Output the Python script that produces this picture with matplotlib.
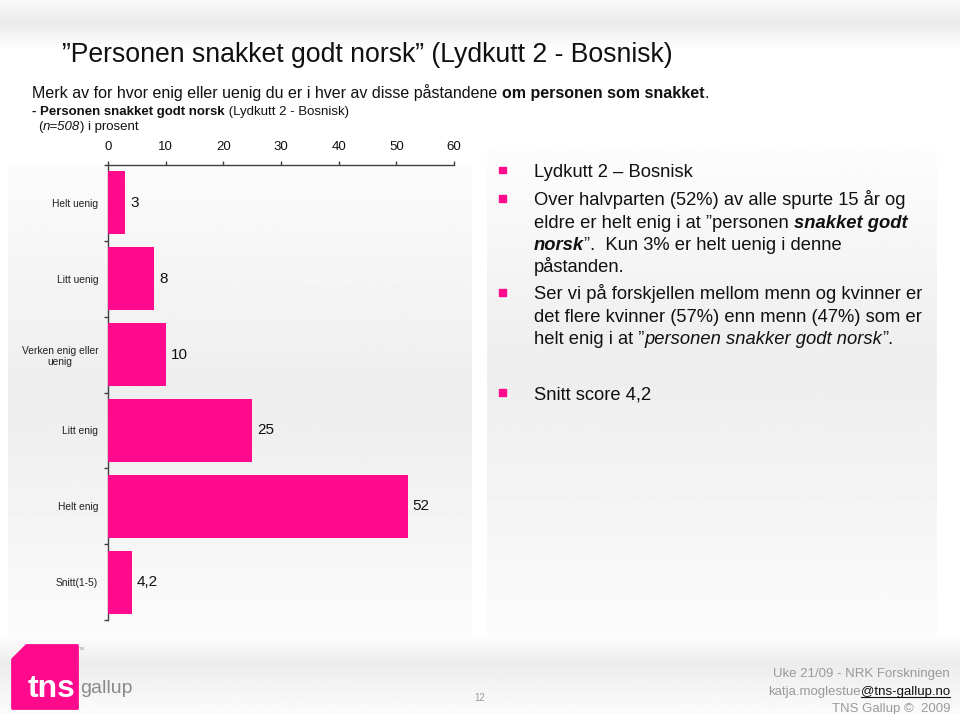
import numpy as np
import matplotlib
matplotlib.use("Agg")
import matplotlib.pyplot as plt
from matplotlib.patches import Polygon, Rectangle

plt.rcParams['font.family'] = ['Liberation Sans', 'DejaVu Sans']

# ---------------- data ----------------
categories = ["Helt uenig", "Litt uenig", "Verken enig eller\nuenig", "Litt enig", "Helt enig", "Snitt(1-5)"]
values = [3, 8, 10, 25, 52, 4.2]
value_labels = ["3", "8", "10", "25", "52", "4,2"]
x_ticks = [0, 10, 20, 30, 40, 50, 60]

PINK = "#FF0A8C"
W, H = 960, 714
fig = plt.figure(figsize=(W / 100, H / 100), dpi=100)
fig.patch.set_facecolor("white")

# background axes in pixel coordinates
bg = fig.add_axes([0, 0, 1, 1], zorder=-5)
bg.set_xlim(0, W)
bg.set_ylim(H, 0)
bg.axis("off")


def vgrad(x0, x1, y0, y1, stops):
    ys = np.linspace(0, 1, 200)
    pos = [s[0] for s in stops]
    vals = [s[1] for s in stops]
    g = np.interp(ys, pos, vals)
    img = np.repeat(g[:, None], 2, axis=1)
    bg.imshow(img, cmap="gray", vmin=0, vmax=1, extent=(x0, x1, y1, y0),
              aspect="auto", interpolation="bilinear", zorder=0)


vgrad(0, W, 0, 50, [(0, 0.975), (0.45, 0.92), (0.8, 0.97), (1, 1.0)])
vgrad(0, W, 636, H, [(0, 0.995), (0.35, 0.925), (0.75, 0.965), (1, 0.985)])
vgrad(8, 472, 165, 636, [(0, 0.985), (0.5, 0.93), (1, 0.985)])
vgrad(487, 937, 150, 636, [(0, 0.99), (0.45, 0.93), (1, 0.985)])

# ---------------- chart ----------------
ax = fig.add_axes([108 / W, 1 - 620 / H, (454 - 108) / W, (620 - 165) / H])
ax.patch.set_alpha(0)
y = np.arange(len(categories))
ax.barh(y, values, height=0.83, color=PINK, zorder=3)
ax.set_xlim(0, 60)
ax.set_ylim(len(categories) - 0.5, -0.5)
for s in ["right", "bottom"]:
    ax.spines[s].set_visible(False)
for s in ["left", "top"]:
    ax.spines[s].set_color("#404040")
    ax.spines[s].set_linewidth(1.0)
ax.xaxis.tick_top()
ax.set_xticks(x_ticks)
ax.set_xticklabels([str(t) for t in x_ticks], fontsize=9.5, color="#111111")
ax.tick_params(axis="x", direction="out", length=3, width=1, color="#404040", pad=6)
ax.set_yticks(y)
ax.set_yticklabels(categories, fontsize=7.4, color="#222222", multialignment="center")
ax.tick_params(axis="y", length=0, pad=7)
ax.set_yticks(np.arange(-0.5, len(categories), 1.0), minor=True)
ax.tick_params(axis="y", which="minor", length=3, width=1, color="#404040", direction="out")
for yi, v, lab in zip(y, values, value_labels):
    ax.annotate(lab, (v, yi), xytext=(3.5, 0), textcoords="offset points",
                va="center", ha="left", fontsize=11, color="#111111")

# ---------------- text helpers ----------------
fig.canvas.draw()
renderer = fig.canvas.get_renderer()


def px(x, yy):
    return x / W, 1 - yy / H


def text_width(s, **kw):
    t1 = fig.text(0, 0, s + "l", **kw)
    t2 = fig.text(0, 0, "l", **kw)
    w = t1.get_window_extent(renderer).width - t2.get_window_extent(renderer).width
    t1.remove()
    t2.remove()
    return w


def runs(x, yy, parts, size, color="#111111"):
    cx = x
    for part in parts:
        s = part[0]
        kw = dict(fontsize=size, color=part[3] if len(part) > 3 else color,
                  fontweight=part[1] if len(part) > 1 else "normal",
                  fontstyle=part[2] if len(part) > 2 else "normal")
        fig.text(*px(cx, yy), s, va="baseline", ha="left", **kw)
        cx += text_width(s, **kw)
    return cx


# title and subtitles
fig.text(*px(62, 61.5), "\u201dPersonen snakket godt norsk\u201d (Lydkutt 2 - Bosnisk)",
         fontsize=19.2, color="#111111", va="baseline", ha="left")
runs(32, 98, [("Merk av for hvor enig eller uenig du er i hver av disse påstandene ",),
              ("om personen som snakket", "bold"), (".",)], 11.5)
runs(32, 115, [("- Personen snakket godt norsk", "bold"), (" (Lydkutt 2 - Bosnisk)",)], 9.5)
runs(38, 130, [("(",), ("n=508", "normal", "italic"), (") i prosent",)], 9.5)

# right bullet text
RS = 13.2
lines = [
    (176.7, [("Lydkutt 2 \u2013 Bosnisk",)], True),
    (205, [("Over halvparten (52%) av alle spurte 15 år og",)], True),
    (227.5, [("eldre er helt enig i at \u201dpersonen ",), ("snakket godt", "bold", "italic")], False),
    (250, [("norsk", "bold", "italic"), ("\u201d.  Kun 3% er helt uenig i denne",)], False),
    (272.5, [("påstanden.",)], False),
    (299, [("Ser vi på forskjellen mellom menn og kvinner er",)], True),
    (321.7, [("det flere kvinner (57%) enn menn (47%) som er",)], False),
    (344.3, [("helt enig i at \u201d",), ("personen snakker godt norsk", "normal", "italic"), ("\u201d.",)], False),
    (399.3, [("Snitt score 4,2",)], True),
]
for yy, parts, bullet in lines:
    runs(534, yy, parts, RS)
    if bullet:
        bg.add_patch(Rectangle((499, yy - 10), 7, 6.5, color=PINK, zorder=5))

# footer
FG = "#9a9a9a"
fig.text(*px(950, 677), "Uke 21/09 - NRK Forskningen", fontsize=9.5, color=FG,
         ha="right", va="baseline")
kw = dict(fontsize=9.5, va="baseline")
w_at = text_width("@tns-gallup.no", fontsize=9.5)
fig.text(*px(950, 695), "@tns-gallup.no", color="#111111", ha="right", **kw)
fig.text(*px(950 - w_at, 695), "katja.moglestue", color=FG, ha="right", **kw)
bg.plot([950 - w_at, 950], [697, 697], color="#111111", lw=0.8, zorder=6)
fig.text(*px(950, 712), "TNS Gallup \u00a9  2009", fontsize=9.5, color=FG,
         ha="right", va="baseline")
fig.text(*px(480, 701), "12", fontsize=7, color=FG, ha="center", va="baseline")

# logo
bg.add_patch(Polygon([(26, 645), (77, 645), (77, 708), (12, 708), (12, 659)],
                     closed=True, facecolor=PINK, edgecolor=PINK, lw=2,
                     joinstyle="round", zorder=5))
fig.text(*px(28, 697), "tns", fontsize=23, fontweight="bold", color="white",
         ha="left", va="baseline", zorder=10)
fig.text(*px(80, 693), "gallup", fontsize=14, color="#8a8a8a",
         ha="left", va="baseline")
fig.text(*px(79, 650), "TM", fontsize=3, color="#999999", ha="left", va="baseline")

fig.savefig("out.png", dpi=100, facecolor="white")
